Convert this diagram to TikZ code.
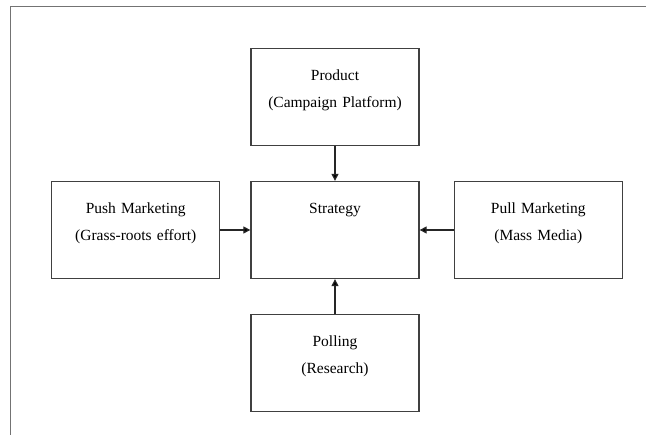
\documentclass[tikz,border=0pt]{standalone}
\usepackage{fontspec}
\setmainfont{Liberation Serif}
\usepackage{tikz}
\usetikzlibrary{arrows.meta,positioning}
\definecolor{cframe}{rgb}{0.45, 0.45, 0.45}
\definecolor{cbox}{rgb}{0.25, 0.25, 0.25}

\begin{document}
\begin{tikzpicture}[x=1pt,y=1pt,->,>={Triangle[length=7pt,width=7pt]},
  node distance=35pt,
  box node/.style={rectangle,draw=cbox,line width=1.3pt,inner sep=0pt,
        text width=168pt,align=center,text height=32pt,text depth=65pt,
        font=\fontsize{15.5}{27}\selectfont},
  link/.style={line width=1.2pt,draw=black!85}]
  \useasboundingbox (0,0) rectangle (646,435);
  % outer frame
  \coordinate (fb) at (10.5,0);
  \coordinate (ft) at (10.5,428.5);
  \coordinate (fr) at (646,428.5);
  \draw[-,cframe,line width=1.8pt] (fb) -- (ft) -- (fr);

  \node[box node] (strat) at (335,205) {Strategy};
  \node[box node] (prod) [above=of strat] {Product\\(Campaign Platform)};
  \node[box node] (poll) [below=of strat] {Polling\\(Research)};
  \node[box node] (push) [left=30pt of strat] {Push Marketing\\(Grass-roots effort)};
  \node[box node] (pull) [right=34pt of strat] {Pull Marketing\\(Mass Media)};

  \path[link]
    (prod) edge (strat)
    (poll) edge (strat)
    (push) edge (strat)
    (pull) edge (strat);
\end{tikzpicture}
\end{document}
